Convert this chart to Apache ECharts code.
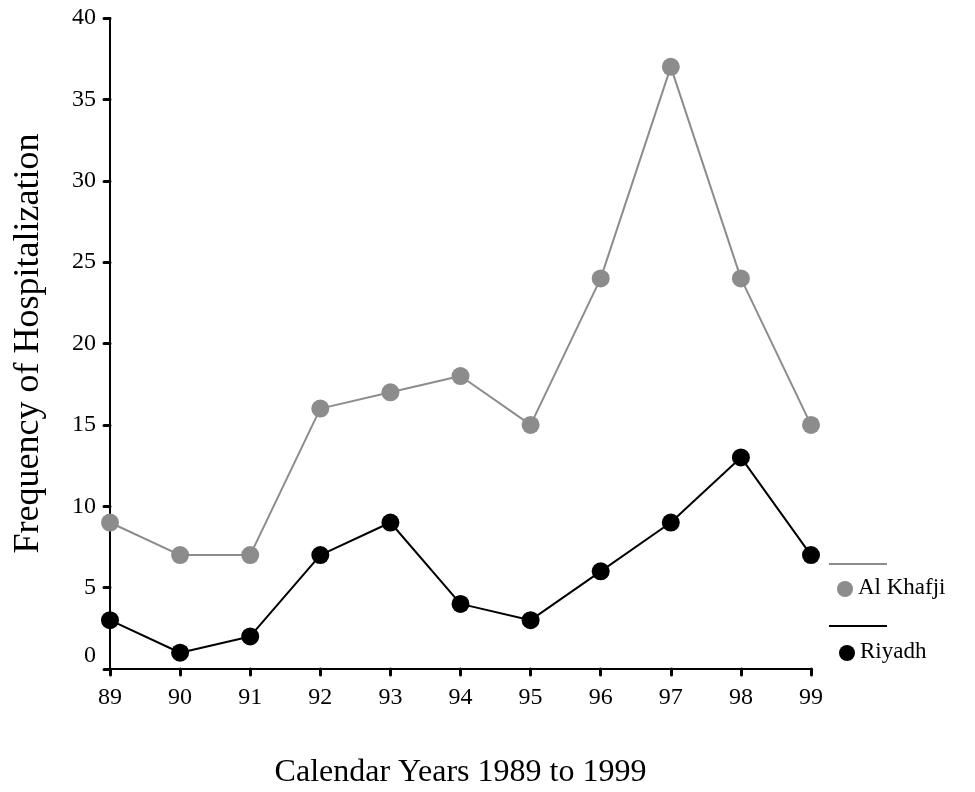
<!DOCTYPE html>
<html><head><meta charset="utf-8">
<script src="https://cdn.jsdelivr.net/npm/echarts@6/dist/echarts.min.js"></script>
<style>html,body{margin:0;padding:0;background:#fff}#c{width:975px;height:792px}</style>
</head><body><div id="c"></div>
<script>
const years = ['89','90','91','92','93','94','95','96','97','98','99'];
const alKhafji = [9,7,7,16,17,18,15,24,37,24,15];
const riyadh = [3,1,2,7,9,4,3,6,9,13,7];
const seriesNames = ['Al Khafji','Riyadh'];
const xTitle = 'Calendar Years 1989 to 1999';
const yTitle = 'Frequency of Hospitalization';

const font = 'Liberation Serif, Times New Roman, serif';
const chart = echarts.init(document.getElementById('c'));
chart.setOption({
  animation:false,
  grid:{left:110,top:18,right:164,bottom:123,containLabel:false,outerBoundsMode:'none'},
  xAxis:{type:'category',data:years,boundaryGap:false,
    name:xTitle,nameLocation:'middle',nameGap:88,
    nameTextStyle:{fontFamily:font,fontSize:32,color:'#000'},
    axisLine:{lineStyle:{color:'#000',width:2}},
    axisTick:{alignWithLabel:true,length:6,lineStyle:{color:'#000',width:3,cap:'round'}},
    axisLabel:{fontFamily:font,fontSize:24,color:'#000',margin:17},
    splitLine:{show:false}},
  yAxis:{type:'value',min:0,max:40,interval:5,
    name:yTitle,nameLocation:'middle',nameGap:63,nameRotate:90,
    nameTextStyle:{fontFamily:font,fontSize:36,color:'#000'},
    axisLine:{show:true,lineStyle:{color:'#000',width:2}},
    axisTick:{show:true,length:6,lineStyle:{color:'#000',width:3,cap:'round'}},
    axisLabel:{fontFamily:font,fontSize:24,color:'#000',margin:14,
      formatter:v=> v===0 ? '{z|0}' : String(v),
      rich:{z:{fontFamily:font,fontSize:24,color:'#000',padding:[0,0,26,0]}}},
    splitLine:{show:false}},
  series:[
    {name:seriesNames[0],type:'line',data:alKhafji,symbol:'circle',symbolSize:18,
      lineStyle:{color:'#8c8c8c',width:2},itemStyle:{color:'#8c8c8c'},z:2},
    {name:seriesNames[1],type:'line',data:riyadh,symbol:'circle',symbolSize:18,
      lineStyle:{color:'#000',width:2},itemStyle:{color:'#000'},z:3}
  ],
  graphic:[
    {type:'line',shape:{x1:829,y1:564,x2:887,y2:564},style:{stroke:'#8c8c8c',lineWidth:2}},
    {type:'circle',shape:{cx:845,cy:589,r:8},style:{fill:'#8c8c8c'}},
    {type:'text',left:858,top:576,style:{text:seriesNames[0],font:'23px '+font,fill:'#000'}},
    {type:'line',shape:{x1:829,y1:626,x2:887,y2:626},style:{stroke:'#000',lineWidth:2}},
    {type:'circle',shape:{cx:847,cy:653,r:8},style:{fill:'#000'}},
    {type:'text',left:860,top:640,style:{text:seriesNames[1],font:'23px '+font,fill:'#000'}}
  ]
});
</script></body></html>
